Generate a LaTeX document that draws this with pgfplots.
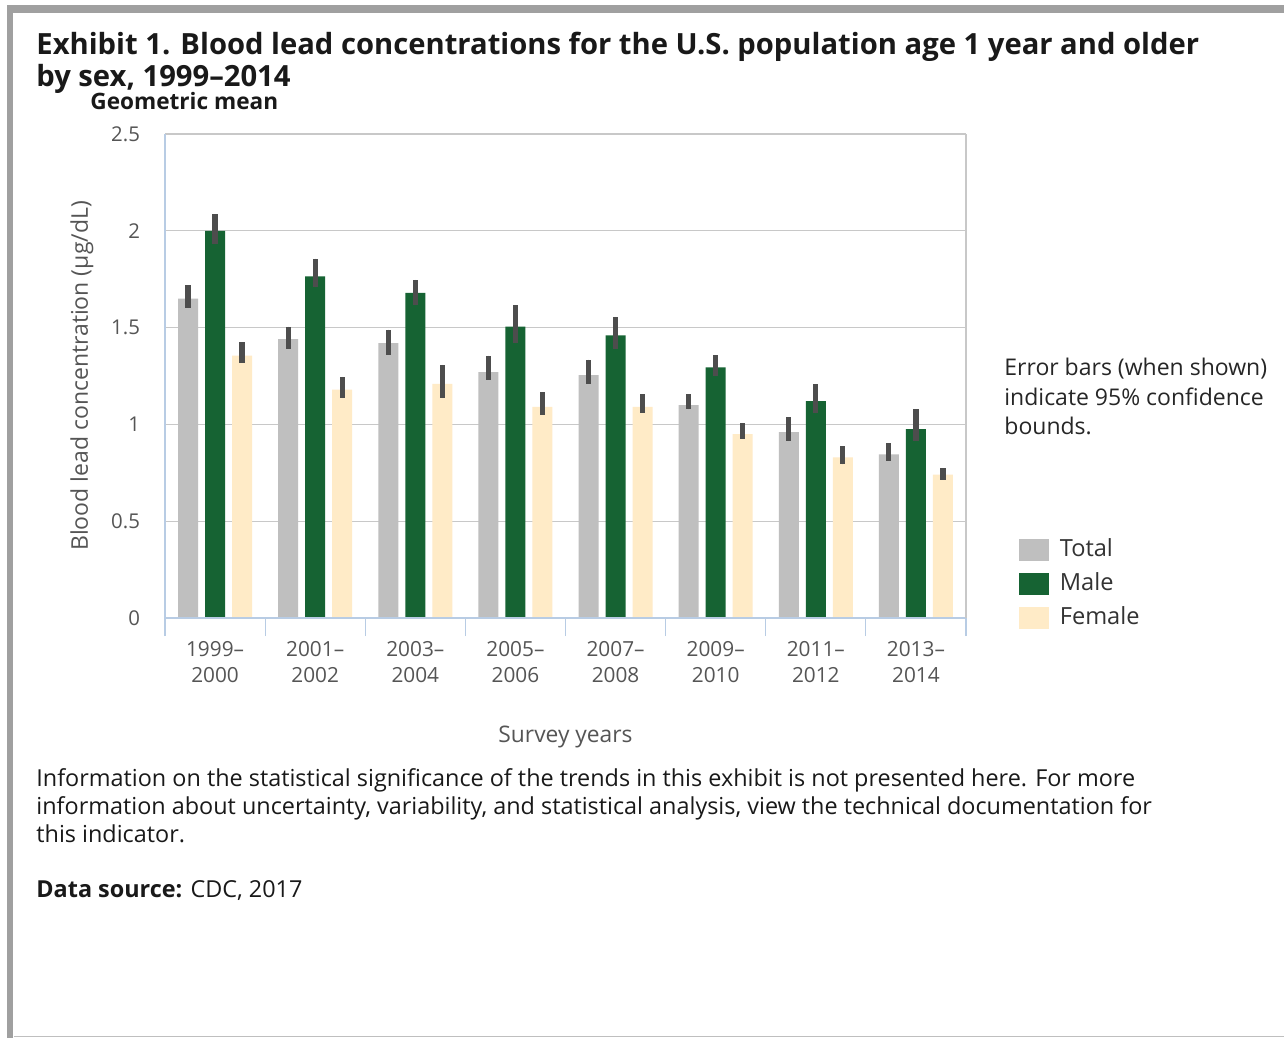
\documentclass[border=0pt]{standalone}
\usepackage{pgfplots}
\pgfplotsset{compat=1.18}
\usepackage{fontspec}
\setmainfont{Open Sans}
\definecolor{totalc}{HTML}{BFBFBF}
\definecolor{malec}{HTML}{166333}
\definecolor{femc}{HTML}{FFEBC7}
\definecolor{errc}{HTML}{4D4D4D}
\definecolor{gridc}{HTML}{C8C8C8}
\definecolor{axisc}{HTML}{B8CCE4}
\definecolor{labc}{HTML}{555555}
\definecolor{bordc}{HTML}{A0A0A0}
\begin{document}
\begin{tikzpicture}
\useasboundingbox[fill=white] (0,0) rectangle (642pt,-519pt);
% page border
\fill[bordc] (4pt,-2.5pt) rectangle (642pt,-6.5pt);
\fill[bordc] (3.5pt,-2.5pt) rectangle (6.5pt,-519pt);
\draw[gray!50, line width=0.5pt] (7pt,-518.2pt) -- (642pt,-518.2pt);
% titles
\node[anchor=base west, inner sep=0pt, font=\fontsize{14.6}{18}\selectfont\bfseries, text=black!90] at (18pt,-27.5pt) {Exhibit 1. Blood lead concentrations for the U.S. population age 1 year and older};
\node[anchor=base west, inner sep=0pt, font=\fontsize{14.6}{18}\selectfont\bfseries, text=black!90] at (18pt,-43.5pt) {by sex, 1999–2014};
\node[anchor=base west, inner sep=0pt, font=\fontsize{11.3}{13}\selectfont\bfseries, text=black!90] at (45pt,-55pt) {Geometric mean};
\begin{axis}[
  at={(82.5pt,-309pt)}, anchor=south west,
  scale only axis, width=400.5pt, height=242pt,
  ybar, bar width=0.2,
  xmin=-0.5, xmax=7.5, ymin=0, ymax=2.5,
  ytick={0,0.5,1,1.5,2,2.5},
  xtick={0,...,7},
  tick pos=left,
  xticklabels={{1999–\\2000},{2001–\\2002},{2003–\\2004},{2005–\\2006},{2007–\\2008},{2009–\\2010},{2011–\\2012},{2013–\\2014}},
  xticklabel style={align=center, font=\fontsize{10.4}{13}\selectfont, text=labc, yshift=-8pt},
  yticklabel style={font=\fontsize{10.2}{12}\selectfont, text=labc, xshift=-9pt},
  /pgf/number format/assume math mode=true,
  major tick length=0pt,
  extra x ticks={-0.5,0.5,...,7.5},
  extra x tick labels={},
  extra x tick style={major tick length=9pt, tick align=outside, tick style={axisc, line width=0.6pt}, grid=none},
  ymajorgrids, grid style={gridc, line width=0.6pt},
  separate axis lines,
  axis line style={draw=none},
  clip=false,
  error bars/y dir=both, error bars/y explicit,
  error bars/error mark=none,
  error bars/error bar style={errc, line width=2.6pt},
  legend style={at={(1.058,0.172)}, anchor=north west, draw=none, fill=none,
     font=\fontsize{11.8}{13}\selectfont, text=black!80, row sep=6pt,
     nodes={inner sep=0pt, anchor=west, text height=8.5pt, text depth=2.5pt},
     /tikz/every odd column/.append style={column sep=5.5pt}},
  legend cell align=left,
  legend image code/.code={\fill[#1] (0pt,-5.5pt) rectangle (15pt,5.5pt);},
]
\addplot[fill=totalc, draw=none, bar shift=-0.27] coordinates {
 (0,1.65) += (0,0.07) -= (0,0.05)
 (1,1.44) += (0,0.065) -= (0,0.05)
 (2,1.42) += (0,0.07) -= (0,0.06)
 (3,1.27) += (0,0.085) -= (0,0.04)
 (4,1.255) += (0,0.08) -= (0,0.045)
 (5,1.10) += (0,0.057) -= (0,0.022)
 (6,0.96) += (0,0.077) -= (0,0.046)
 (7,0.845) += (0,0.057) -= (0,0.034)
};
\addplot[fill=malec, draw=none, bar shift=0] coordinates {
 (0,2.00) += (0,0.085) -= (0,0.07)
 (1,1.765) += (0,0.091) -= (0,0.057)
 (2,1.68) += (0,0.066) -= (0,0.063)
 (3,1.505) += (0,0.11) -= (0,0.086)
 (4,1.46) += (0,0.095) -= (0,0.071)
 (5,1.295) += (0,0.062) -= (0,0.045)
 (6,1.12) += (0,0.087) -= (0,0.063)
 (7,0.975) += (0,0.103) -= (0,0.059)
};
\addplot[fill=femc, draw=none, bar shift=0.27] coordinates {
 (0,1.355) += (0,0.069) -= (0,0.036)
 (1,1.18) += (0,0.066) -= (0,0.044)
 (2,1.21) += (0,0.097) -= (0,0.074)
 (3,1.09) += (0,0.076) -= (0,0.041)
 (4,1.09) += (0,0.067) -= (0,0.03)
 (5,0.95) += (0,0.056) -= (0,0.023)
 (6,0.83) += (0,0.058) -= (0,0.036)
 (7,0.74) += (0,0.033) -= (0,0.027)
};
\legend{Total, Male, Female}
\draw[axisc, line width=0.6pt] (axis cs:-0.5,0) -- (axis cs:7.5,0);
\draw[axisc, line width=0.6pt] (axis cs:-0.5,0) -- (axis cs:-0.5,2.5);
\draw[gridc, line width=0.6pt] (axis cs:7.5,0) -- (axis cs:7.5,2.5);
\end{axis}
% axis labels
\node[rotate=90, inner sep=0pt, font=\fontsize{11.5}{13}\selectfont, text=labc] at (41pt,-188pt) {Blood lead concentration (µg/dL)};
\node[anchor=base, inner sep=0pt, font=\fontsize{11.4}{13}\selectfont, text=labc] at (282.75pt,-371pt) {Survey years};
% note
\node[anchor=base west, inner sep=0pt, font=\fontsize{11.5}{13}\selectfont, text=black!85] at (502pt,-187.5pt) {Error bars (when shown)};
\node[anchor=base west, inner sep=0pt, font=\fontsize{11.5}{13}\selectfont, text=black!85] at (502pt,-202.5pt) {indicate 95\% confidence};
\node[anchor=base west, inner sep=0pt, font=\fontsize{11.5}{13}\selectfont, text=black!85] at (502pt,-217pt) {bounds.};
% footnotes
\node[anchor=base west, inner sep=0pt, font=\fontsize{11.7}{13}\selectfont, text=black!90] at (18pt,-393pt) {Information on the statistical significance of the trends in this exhibit is not presented here. For more};
\node[anchor=base west, inner sep=0pt, font=\fontsize{11.7}{13}\selectfont, text=black!90] at (18pt,-407pt) {information about uncertainty, variability, and statistical analysis, view the technical documentation for};
\node[anchor=base west, inner sep=0pt, font=\fontsize{11.7}{13}\selectfont, text=black!90] at (18pt,-421pt) {this indicator.};
\node[anchor=base west, inner sep=0pt, font=\fontsize{11.7}{13}\selectfont, text=black!90] at (18pt,-448.5pt) {\textbf{Data source:} CDC, 2017};
\end{tikzpicture}
\end{document}
